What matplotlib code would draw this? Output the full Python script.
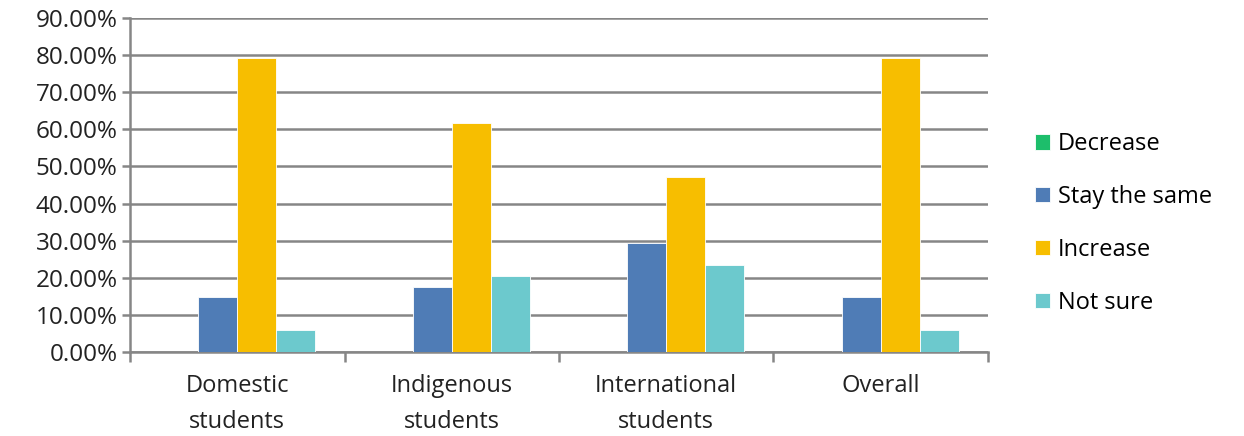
import numpy as np
from matplotlib import pyplot as plt
from matplotlib.ticker import PercentFormatter

categories = ['Domestic\nstudents', 'Indigenous\nstudents', 'International\nstudents', 'Overall']
series = ['Decrease', 'Stay the same', 'Increase', 'Not sure']
decrease = [0.0, 0.0, 0.0, 0.0]
stay_same = [14.7, 17.6, 29.4, 14.7]
increase = [79.3, 61.8, 47.1, 79.3]
not_sure = [6.0, 20.6, 23.5, 6.0]
values = [decrease, stay_same, increase, not_sure]
colors = ['#1DBE6B', '#4F7CB6', '#F7BE00', '#6CC9CD']

plt.rcParams['font.family'] = ['Open Sans', 'DejaVu Sans']
fig = plt.figure(figsize=(12.44, 4.36), dpi=100)
ax = fig.add_axes([130 / 1244, 84 / 436, 858 / 1244, 334 / 436])

x = np.arange(len(categories))
w = 0.182
for i, (name, vals, c) in enumerate(zip(series, values, colors)):
    ax.bar(x + (i - 1.5) * w, vals, w, color=c, label=name,
           edgecolor='white', linewidth=0.6, zorder=3)

ax.set_xlim(-0.5, len(categories) - 0.5)
ax.set_ylim(0, 90)
ax.set_yticks(np.arange(0, 91, 10))
ax.yaxis.set_major_formatter(PercentFormatter(decimals=2))
ax.grid(axis='y', color='#868686', linewidth=1.8, zorder=0)

ax.set_xticks(np.arange(-0.5, len(categories), 1))
ax.set_xticklabels([])
ax.set_xticks(x, minor=True)
ax.set_xticklabels(categories, minor=True, fontsize=17, color='#222222',
                   linespacing=1.65)
ax.tick_params(axis='x', which='major', length=7, width=1.8, color='#868686')
ax.tick_params(axis='x', which='minor', length=0, pad=16)
ax.tick_params(axis='y', length=6, width=1.8, color='#868686', labelsize=17.5,
               labelcolor='#222222', pad=3)

for s in ['top', 'right']:
    ax.spines[s].set_visible(False)
for s in ['left', 'bottom']:
    ax.spines[s].set_color('#868686')
    ax.spines[s].set_linewidth(1.8)

ax.legend(loc='center left', bbox_to_anchor=(1.03, 0.385), frameon=False,
          fontsize=17, handlelength=0.62, handleheight=0.62, labelspacing=1.22,
          handletextpad=0.35)

plt.savefig('out.png')
